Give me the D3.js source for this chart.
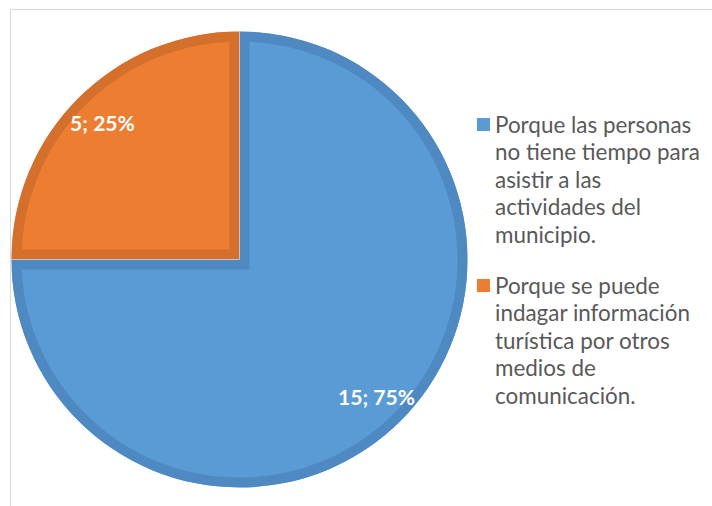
<!DOCTYPE html>
<html><head><meta charset="utf-8">
<script src="https://cdn.jsdelivr.net/npm/d3@7"></script>
<style>html,body{margin:0;padding:0;background:#fff;}svg{display:block;}</style>
</head><body>
<svg id="chart" width="712" height="506"></svg>
<script>
const categories = [
  "Porque las personas no tiene tiempo para asistir a las actividades del municipio.",
  "Porque se puede indagar información turística por otros medios de comunicación."
];
const values = [15, 5];
const percents = ["75%", "25%"];
const legendLines = [
  ["Porque las personas", "no tiene tiempo para", "asistir a las", "actividades del", "municipio."],
  ["Porque se puede", "indagar información", "turística por otros", "medios de", "comunicación."]
];
const fills = ["#5b9bd5", "#ed7d31"];
const shades = ["#4f89c2", "#d4702c"];

const svg = d3.select("#chart");
svg.append("rect").attr("x", 10.5).attr("y", 9.5).attr("width", 800).attr("height", 600)
  .attr("fill", "#fff").attr("stroke", "#d9d9d9").attr("stroke-width", 1);

const cx = 239.5, cy = 259.5, r = 228;
const pie = d3.pie().sort(null).value(d => d)(values);
const arc = d3.arc().innerRadius(0).outerRadius(r);
const labelArc = d3.arc().innerRadius(r * 0.85).outerRadius(r * 0.85);

const g = svg.append("g").attr("transform", `translate(${cx},${cy})`);
const defs = svg.append("defs");
pie.forEach((d, i) => {
  defs.append("clipPath").attr("id", "clip" + i).append("path").attr("d", arc(d));
});
g.selectAll("path.slice").data(pie).join("path").attr("class", "slice")
  .attr("d", arc).attr("fill", (d, i) => fills[i]);
g.selectAll("path.band").data(pie).join("path").attr("class", "band")
  .attr("d", arc).attr("fill", "none").attr("stroke", (d, i) => shades[i])
  .attr("stroke-width", 20).attr("stroke-linejoin", "miter")
  .attr("clip-path", (d, i) => `url(#clip${i})`);
// thin light separators between slices
g.selectAll("line.sep").data(pie).join("line").attr("class", "sep")
  .attr("x1", 0).attr("y1", 0)
  .attr("x2", d => r * Math.sin(d.startAngle)).attr("y2", d => -r * Math.cos(d.startAngle))
  .attr("stroke", "#ffffff").attr("stroke-opacity", 0.45).attr("stroke-width", 1);

// data labels
const labels = g.selectAll("text.lbl").data(pie).join("text").attr("class", "lbl")
  .attr("x", d => labelArc.centroid(d)[0]).attr("y", d => labelArc.centroid(d)[1])
  .attr("text-anchor", "middle").attr("dominant-baseline", "central")
  .attr("font-family", "Lato, 'Open Sans', sans-serif").attr("font-weight", "bold")
  .attr("font-size", 20).attr("fill", "#ffffff")
  .text((d, i) => `${values[i]}; ${percents[i]}`);
// fit label size so "15; 75%" is ~77px wide
{
  const w = labels.nodes()[0].getComputedTextLength();
  const fs = 20 * 77 / w;
  labels.attr("font-size", fs);
}

// legend
const legend = svg.append("g");
const legendX = 477, textX = 495;
const firstY = [124.5, 285.5];
const lineH = 27.4;
legendLines.forEach((lines, i) => {
  legend.append("rect").attr("x", legendX).attr("y", firstY[i] - 6.5)
    .attr("width", 13).attr("height", 13).attr("fill", fills[i]);
  lines.forEach((t, j) => {
    legend.append("text").attr("class", "lg")
      .attr("x", textX).attr("y", firstY[i] + j * lineH)
      .attr("dominant-baseline", "central")
      .attr("font-family", "Lato, 'Open Sans', sans-serif")
      .attr("font-size", 20).attr("fill", "#595959").text(t);
  });
});
{
  const ref = legend.selectAll("text.lg").filter(function () { return this.textContent === "indagar información"; }).node();
  const w = ref.getComputedTextLength();
  legend.selectAll("text.lg").attr("font-size", 20 * 195 / w);
}
</script>
</body></html>
